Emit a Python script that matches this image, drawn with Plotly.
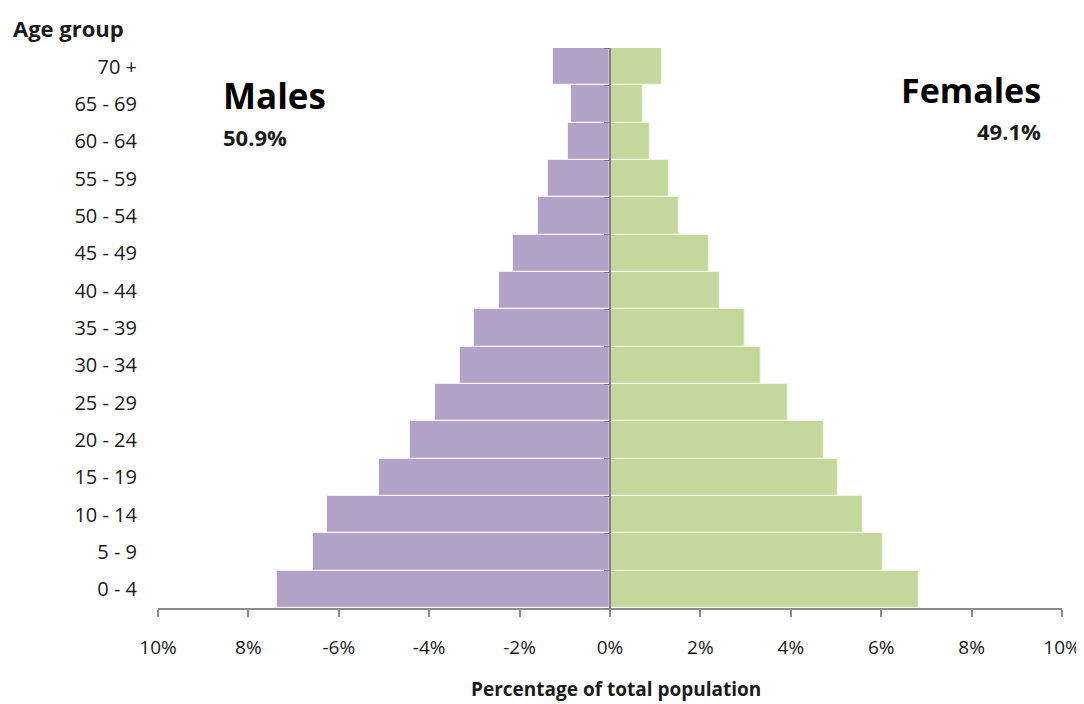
import plotly.graph_objects as go

# Population pyramid: share of total population by age group (%)
age_groups = ["0 - 4", "5 - 9", "10 - 14", "15 - 19", "20 - 24", "25 - 29", "30 - 34",
              "35 - 39", "40 - 44", "45 - 49", "50 - 54", "55 - 59", "60 - 64",
              "65 - 69", "70 +"]
males = [7.37, 6.57, 6.26, 5.11, 4.42, 3.87, 3.32, 3.01, 2.46, 2.15, 1.59, 1.37, 0.93, 0.86, 1.26]
females = [6.84, 6.04, 5.60, 5.04, 4.73, 3.94, 3.34, 2.99, 2.43, 2.19, 1.53, 1.31, 0.88, 0.73, 1.15]

tick_vals = [-10, -8, -6, -4, -2, 0, 2, 4, 6, 8, 10]
tick_text = ["10%", "8%", "-6%", "-4%", "-2%", "0%", "2%", "4%", "6%", "8%", "10%"]

FONT = "'Open Sans', Lato, sans-serif"
GREY = "#8c8c8c"

fig = go.Figure()
fig.add_trace(go.Bar(
    y=age_groups, x=[-v for v in males], orientation="h", name="Males",
    marker=dict(color="#B3A2C7", line=dict(color="#f4f0f8", width=1.2)),
))
fig.add_trace(go.Bar(
    y=age_groups, x=females, orientation="h", name="Females",
    marker=dict(color="#C4D79B", line=dict(color="#f2f7e8", width=1.2)),
))

# invisible trace so the centre axis (yaxis2) gets drawn with its boundary ticks
fig.add_trace(go.Scatter(y=age_groups, x=[0] * len(age_groups), yaxis="y2",
                         mode="markers", marker=dict(opacity=0), hoverinfo="skip"))

# page body has an 8px margin, so margins are shifted by 8px
fig.update_layout(
    width=1084, height=704,
    barmode="relative", bargap=0,
    showlegend=False,
    plot_bgcolor="white", paper_bgcolor="white",
    font=dict(family=FONT, size=19, color="#1a1a1a"),
    margin=dict(l=150, r=30, t=40, b=104, autoexpand=False),
    xaxis=dict(
        range=[-10, 10], tickvals=tick_vals, ticktext=tick_text,
        showgrid=False, zeroline=False,
        showline=True, linecolor=GREY, linewidth=1.5,
        ticks="outside", ticklen=7, tickcolor=GREY, tickwidth=1.5,
        ticklabelstandoff=14,
    ),
    yaxis=dict(
        type="category", categoryorder="array", categoryarray=age_groups,
        range=[-0.5, 14.5], tickfont=dict(size=20),
        showgrid=False, zeroline=False, showline=False,
        ticks="", ticklabelstandoff=20,
    ),
    yaxis2=dict(
        matches="y", overlaying="y", anchor="free", position=0.5,
        type="category", categoryorder="array", categoryarray=age_groups,
        showticklabels=False, showgrid=False, zeroline=False,
        showline=True, linecolor="#7f7f7f", linewidth=1.5,
        ticks="outside", tickson="boundaries", ticklen=5, tickcolor="#7f7f7f",
    ),
)

annotations = [
    dict(text="<b>Age group</b>", x=-0.163, y=1.036, xanchor="left", yanchor="middle", font=dict(size=22)),
    dict(text="<b>Males</b>", x=0.070, y=0.916, xanchor="left", yanchor="middle", font=dict(size=35, color="black")),
    dict(text="<b>50.9%</b>", x=0.070, y=0.841, xanchor="left", yanchor="middle", font=dict(size=22)),
    dict(text="<b>Females</b>", x=0.979, y=0.925, xanchor="right", yanchor="middle", font=dict(size=34, color="black")),
    dict(text="<b>49.1%</b>", x=0.979, y=0.852, xanchor="right", yanchor="middle", font=dict(size=22)),
    dict(text="<b>Percentage of total population</b>", x=0.507, y=-0.145, xanchor="center", yanchor="middle", font=dict(size=19)),
]
for a in annotations:
    fig.add_annotation(xref="paper", yref="paper", showarrow=False, **a)

fig.write_html("out.html")
